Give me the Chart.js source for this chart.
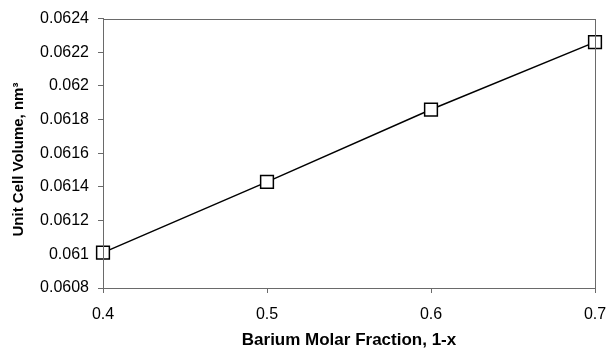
<!DOCTYPE html>
<html>
<head>
<meta charset="utf-8">
<script src="https://cdn.jsdelivr.net/npm/chart.js@4"></script>
<style>
  html, body { margin: 0; padding: 0; background: #fff; }
  #chart { display: block; }
</style>
</head>
<body>
<canvas id="chart" width="608" height="352"></canvas>
<script>
// barium fraction vs. unit cell volume
const fractions = [0.4, 0.5, 0.6, 0.7];
const volumes = [0.06101, 0.06143, 0.06186, 0.06226];

const xTicks = [0.4, 0.5, 0.6, 0.7];
const yTicks = [0.0608, 0.061, 0.0612, 0.0614, 0.0616, 0.0618, 0.062, 0.0622, 0.0624];

const xTitle = 'Barium Molar Fraction, 1-x';
const yTitle = 'Unit Cell Volume, nm\u00B3   ';

const axisColor = '#6a6a6a';
const fontFamily = 'Arial, "Liberation Sans", sans-serif';

// box round the plot area (top and right sides too)
const frame = {
  id: 'frame',
  afterDatasetsDraw(chart) {
    const a = chart.chartArea;
    const ctx = chart.ctx;
    ctx.save();
    ctx.strokeStyle = axisColor;
    ctx.lineWidth = 1;
    ctx.strokeRect(Math.round(a.left) + 0.5, Math.round(a.top) + 0.5,
      Math.round(a.right - a.left), Math.round(a.bottom - a.top));
    ctx.restore();
  }
};

const ctx = document.getElementById('chart').getContext('2d');
new Chart(ctx, {
  type: 'line',
  data: {
    datasets: [{
      data: fractions.map((x, i) => ({ x: x, y: volumes[i] })),
      borderColor: '#000',
      borderWidth: 1.5,
      pointStyle: 'rect',
      pointRadius: 9,
      pointBorderWidth: 1.5,
      pointBorderColor: '#000',
      pointBackgroundColor: '#fff',
      tension: 0,
      clip: false
    }]
  },
  options: {
    responsive: false,
    animation: false,
    layout: { padding: { top: 17, right: 13, left: 0, bottom: 0 } },
    plugins: {
      legend: { display: false },
      tooltip: { enabled: false }
    },
    scales: {
      x: {
        type: 'linear',
        min: 0.4,
        max: 0.7,
        afterBuildTicks: s => { s.ticks = xTicks.map(v => ({ value: v })); },
        afterFit: s => {
          s.height = 64;
          // the big label padding should not eat into the plot width
          s.paddingLeft = 0;
          s.paddingRight = 11;
        },
        ticks: {
          color: '#000',
          padding: 12,
          font: { family: fontFamily, size: 16 },
          callback: v => String(v)
        },
        grid: { drawOnChartArea: false, drawTicks: true, tickLength: 5, color: axisColor },
        border: { color: axisColor, width: 1 },
        title: {
          display: true,
          text: xTitle,
          color: '#000',
          font: { family: fontFamily, size: 17, weight: 'bold' },
          padding: { top: 0, bottom: 1 }
        }
      },
      y: {
        type: 'linear',
        min: 0.0608,
        max: 0.0624,
        afterBuildTicks: s => { s.ticks = yTicks.map(v => ({ value: v })); },
        afterFit: s => { s.width = 103; },
        ticks: {
          color: '#000',
          padding: 9,
          font: { family: fontFamily, size: 16 },
          callback: v => String(v)
        },
        grid: { drawOnChartArea: false, drawTicks: true, tickLength: 5, color: axisColor },
        border: { color: axisColor, width: 1 },
        title: {
          display: true,
          text: yTitle,
          color: '#000',
          font: { family: fontFamily, size: 15, weight: 'bold' },
          padding: { top: 10, bottom: 0 }
        }
      }
    }
  },
  plugins: [frame]
});
</script>
</body>
</html>
